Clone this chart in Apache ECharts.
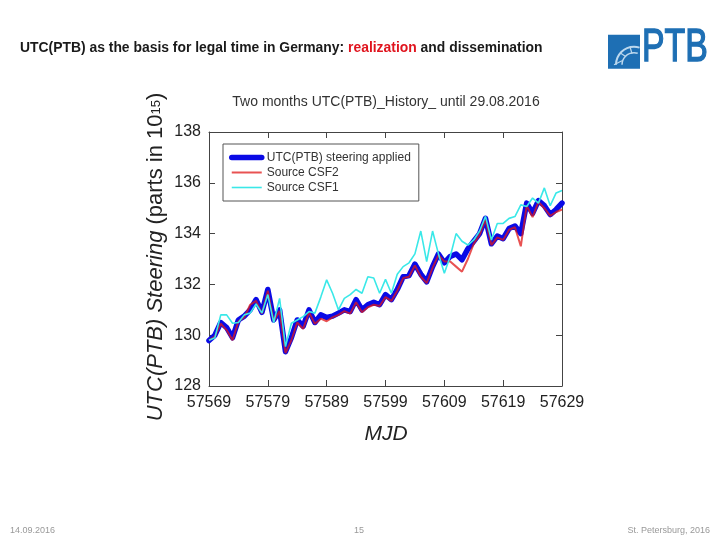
<!DOCTYPE html>
<html>
<head>
<meta charset="utf-8">
<script src="https://cdn.jsdelivr.net/npm/echarts@6/dist/echarts.min.js"></script>
<style>
html,body{margin:0;padding:0;background:#fff;}
#chart{width:720px;height:540px;}
</style>
</head>
<body>
<div id="chart"></div>
<script>
// MJD days
var mjd = [57569,57570,57571,57572,57573,57574,57575,57576,57577,57578,
           57579,57580,57581,57582,57583,57584,57585,57586,57587,57588,
           57589,57590,57591,57592,57593,57594,57595,57596,57597,57598,
           57599,57600,57601,57602,57603,57604,57605,57606,57607,57608,
           57609,57610,57611,57612,57613,57614,57615,57616,57617,57618,
           57619,57620,57621,57622,57623,57624,57625,57626,57627,57628,57629];

// UTC(PTB) steering applied
var steering = [129.79,130.0,130.5,130.3,129.9,130.6,130.75,131.0,131.4,130.9,
                131.8,130.6,131.0,129.35,129.9,130.6,130.35,131.0,130.5,130.8,
                130.7,130.75,130.87,131.0,130.93,131.4,131.0,131.2,131.3,131.2,
                131.6,131.4,131.8,132.3,132.35,132.8,132.4,132.1,132.7,133.2,
                132.85,133.1,133.2,132.97,133.4,133.7,134.0,134.6,133.6,133.9,
                133.8,134.2,134.3,134.0,135.2,134.8,135.3,135.1,134.75,134.95,135.2];

// Source CSF2
var csf2 = [129.8,129.95,130.45,130.2,129.8,130.55,130.7,131.2,131.35,130.85,
            131.75,130.55,130.95,129.3,129.8,130.5,130.25,130.9,130.45,130.65,
            130.55,130.7,130.8,130.95,130.85,131.3,130.9,131.1,131.2,131.15,
            131.5,131.35,131.75,132.25,132.3,132.75,132.3,132.05,132.65,133.15,
            132.9,132.9,132.7,132.5,133.0,133.6,133.95,134.55,133.55,133.85,
            133.75,134.15,134.25,133.5,135.1,134.65,135.25,135.0,134.7,134.85,134.95];

// Source CSF1
var csf1 = [129.8,129.9,130.8,130.8,130.47,130.5,130.8,130.87,131.23,130.87,
            131.6,130.5,131.45,129.55,130.47,130.6,130.73,130.93,130.87,131.5,
            132.18,131.65,131.0,131.45,131.6,131.8,131.65,132.3,132.25,131.65,
            132.2,131.65,132.4,132.7,132.85,133.2,134.1,132.9,134.1,133.2,
            132.44,133.1,134.0,133.7,133.55,133.75,134.1,134.68,133.75,134.4,
            134.4,134.6,134.67,135.13,135.07,135.4,135.2,135.8,135.1,135.6,135.7];

var xTicks = [57569,57579,57589,57599,57609,57619,57629];
var yTicks = [128,130,132,134,136,138];

function pairs(vals){ return mjd.map(function(d,i){ return [d, vals[i]]; }); }

var chart = echarts.init(document.getElementById('chart'), null, {renderer:'canvas'});
var axisCol = '#444';
var FF = 'Liberation Sans, Arial, sans-serif';
var tickFont = {fontFamily:FF, fontSize:16, color:'#222'};

var option = {
  backgroundColor:'#fff',
  animation:false,
  grid:{left:209, right:158, top:132, bottom:154, containLabel:false},
  xAxis:[{
    type:'value', min:xTicks[0], max:xTicks[xTicks.length-1], interval:10, position:'bottom',
    axisLine:{show:true, onZero:false, lineStyle:{color:axisCol, width:1}},
    axisTick:{show:true, inside:true, length:6, lineStyle:{color:axisCol}},
    axisLabel:Object.assign({margin:9, showMinLabel:true, showMaxLabel:true,
      formatter:function(v){ return String(v); }}, tickFont),
    splitLine:{show:false}
  },{
    type:'value', min:xTicks[0], max:xTicks[xTicks.length-1], interval:10, position:'top',
    axisLine:{show:true, onZero:false, lineStyle:{color:axisCol, width:1}},
    axisTick:{show:true, inside:true, length:6, lineStyle:{color:axisCol}},
    axisLabel:{show:false}, splitLine:{show:false}
  }],
  yAxis:[{
    type:'value', min:yTicks[0], max:yTicks[yTicks.length-1], interval:2, position:'left',
    axisLine:{show:true, onZero:false, lineStyle:{color:axisCol, width:1}},
    axisTick:{show:true, inside:true, length:6, lineStyle:{color:axisCol}},
    axisLabel:Object.assign({margin:8}, tickFont),
    splitLine:{show:false}
  },{
    type:'value', min:yTicks[0], max:yTicks[yTicks.length-1], interval:2, position:'right',
    axisLine:{show:true, onZero:false, lineStyle:{color:axisCol, width:1}},
    axisTick:{show:true, inside:true, length:6, lineStyle:{color:axisCol}},
    axisLabel:{show:false}, splitLine:{show:false}
  }],
  legend:{
    orient:'vertical', left:223, top:144,
    padding:[6,8,6,6], itemGap:0, itemWidth:30, itemHeight:14,
    borderColor:'#555', borderWidth:1, borderRadius:0, backgroundColor:'#fff',
    lineStyle:{width:'inherit'},
    itemStyle:{opacity:0},
    textStyle:{fontFamily:FF, fontSize:12, color:'#333', lineHeight:15, height:15, padding:[0,0,0,0]},
    data:['UTC(PTB) steering applied','Source CSF2','Source CSF1']
  },
  series:[{
    name:'UTC(PTB) steering applied', type:'line', xAxisIndex:0, yAxisIndex:0,
    data:pairs(steering), symbol:'none', smooth:false,
    lineStyle:{color:'#0a0ae6', width:5.5, join:'round', cap:'round'},
    itemStyle:{color:'#0a0ae6'}, z:2
  },{
    name:'Source CSF2', type:'line', xAxisIndex:0, yAxisIndex:0,
    data:pairs(csf2), symbol:'none',
    lineStyle:{color:'#e01818', width:2, opacity:0.75},
    itemStyle:{color:'#e01818'}, z:3
  },{
    name:'Source CSF1', type:'line', xAxisIndex:0, yAxisIndex:0,
    data:pairs(csf1), symbol:'none',
    lineStyle:{color:'#3ae8e8', width:1.6},
    itemStyle:{color:'#3ae8e8'}, z:4
  }],
  graphic:[
    {type:'text', x:20, y:48, style:{
      text:'{b|UTC(PTB) as the basis for legal time in Germany: }{r|realization}{b| and dissemination}',
      textVerticalAlign:'middle',
      rich:{
        b:{fontFamily:FF, fontSize:13.9, fontWeight:'bold', fill:'#1a1a1a'},
        r:{fontFamily:FF, fontSize:13.9, fontWeight:'bold', fill:'#e0141e'}
      }}},
    {type:'text', x:386, y:102, style:{
      text:'Two months UTC(PTB)_History_ until 29.08.2016',
      fontFamily:FF, fontSize:14, fill:'#333',
      textAlign:'center', textVerticalAlign:'middle'}},
    {type:'text', x:386, y:434, style:{
      text:'MJD', fontFamily:FF, fontSize:21, fontStyle:'italic',
      fill:'#222', textAlign:'center', textVerticalAlign:'middle'}},
    {type:'text', x:156, y:257, rotation:Math.PI/2, style:{
      text:'{i|UTC(PTB) Steering }{n|(parts in 10}{s|15}{n|)}',
      textAlign:'center', textVerticalAlign:'middle',
      rich:{
        i:{fontFamily:FF, fontSize:22, fontStyle:'italic', fill:'#222', height:25},
        n:{fontFamily:FF, fontSize:22, fill:'#222', height:25},
        s:{fontFamily:FF, fontSize:13, fill:'#222', verticalAlign:'top', height:25}
      }}},
    // PTB logo
    {type:'group', left:608, top:24, children:[
      {type:'rect', shape:{x:0, y:0, width:32, height:34}, style:{fill:'#1e6fb4'}},
      {type:'arc', shape:{cx:26, cy:30, r:18, startAngle:Math.PI, endAngle:Math.PI*1.6}, style:{stroke:'#bcd8ee', lineWidth:2, fill:null}},
      {type:'arc', shape:{cx:26, cy:30, r:12, startAngle:Math.PI, endAngle:Math.PI*1.6}, style:{stroke:'#bcd8ee', lineWidth:1.5, fill:null}},
      {type:'line', shape:{x1:6, y1:30, x2:14, y2:26}, style:{stroke:'#bcd8ee', lineWidth:1.2}},
      {type:'line', shape:{x1:12, y1:18, x2:18, y2:22}, style:{stroke:'#bcd8ee', lineWidth:1.2}},
      {type:'line', shape:{x1:22, y1:12, x2:24, y2:19}, style:{stroke:'#bcd8ee', lineWidth:1.2}},
      {type:'text', x:34, y:-10, scaleX:0.72, style:{text:'PTB', fontFamily:FF, fontSize:47, fill:'#1e6fb4', stroke:'#1e6fb4', lineWidth:1.5}}
    ]},
    // footer
    {type:'text', left:10, top:526, style:{text:'14.09.2016', fontFamily:FF, fontSize:9, fill:'#999'}},
    {type:'text', x:359, y:531, style:{text:'15', fontFamily:FF, fontSize:9, fill:'#999', textAlign:'center', textVerticalAlign:'middle'}},
    {type:'text', right:10, top:526, style:{text:'St. Petersburg, 2016', fontFamily:FF, fontSize:9, fill:'#999'}}
  ]
};
chart.setOption(option);
</script>
</body>
</html>
